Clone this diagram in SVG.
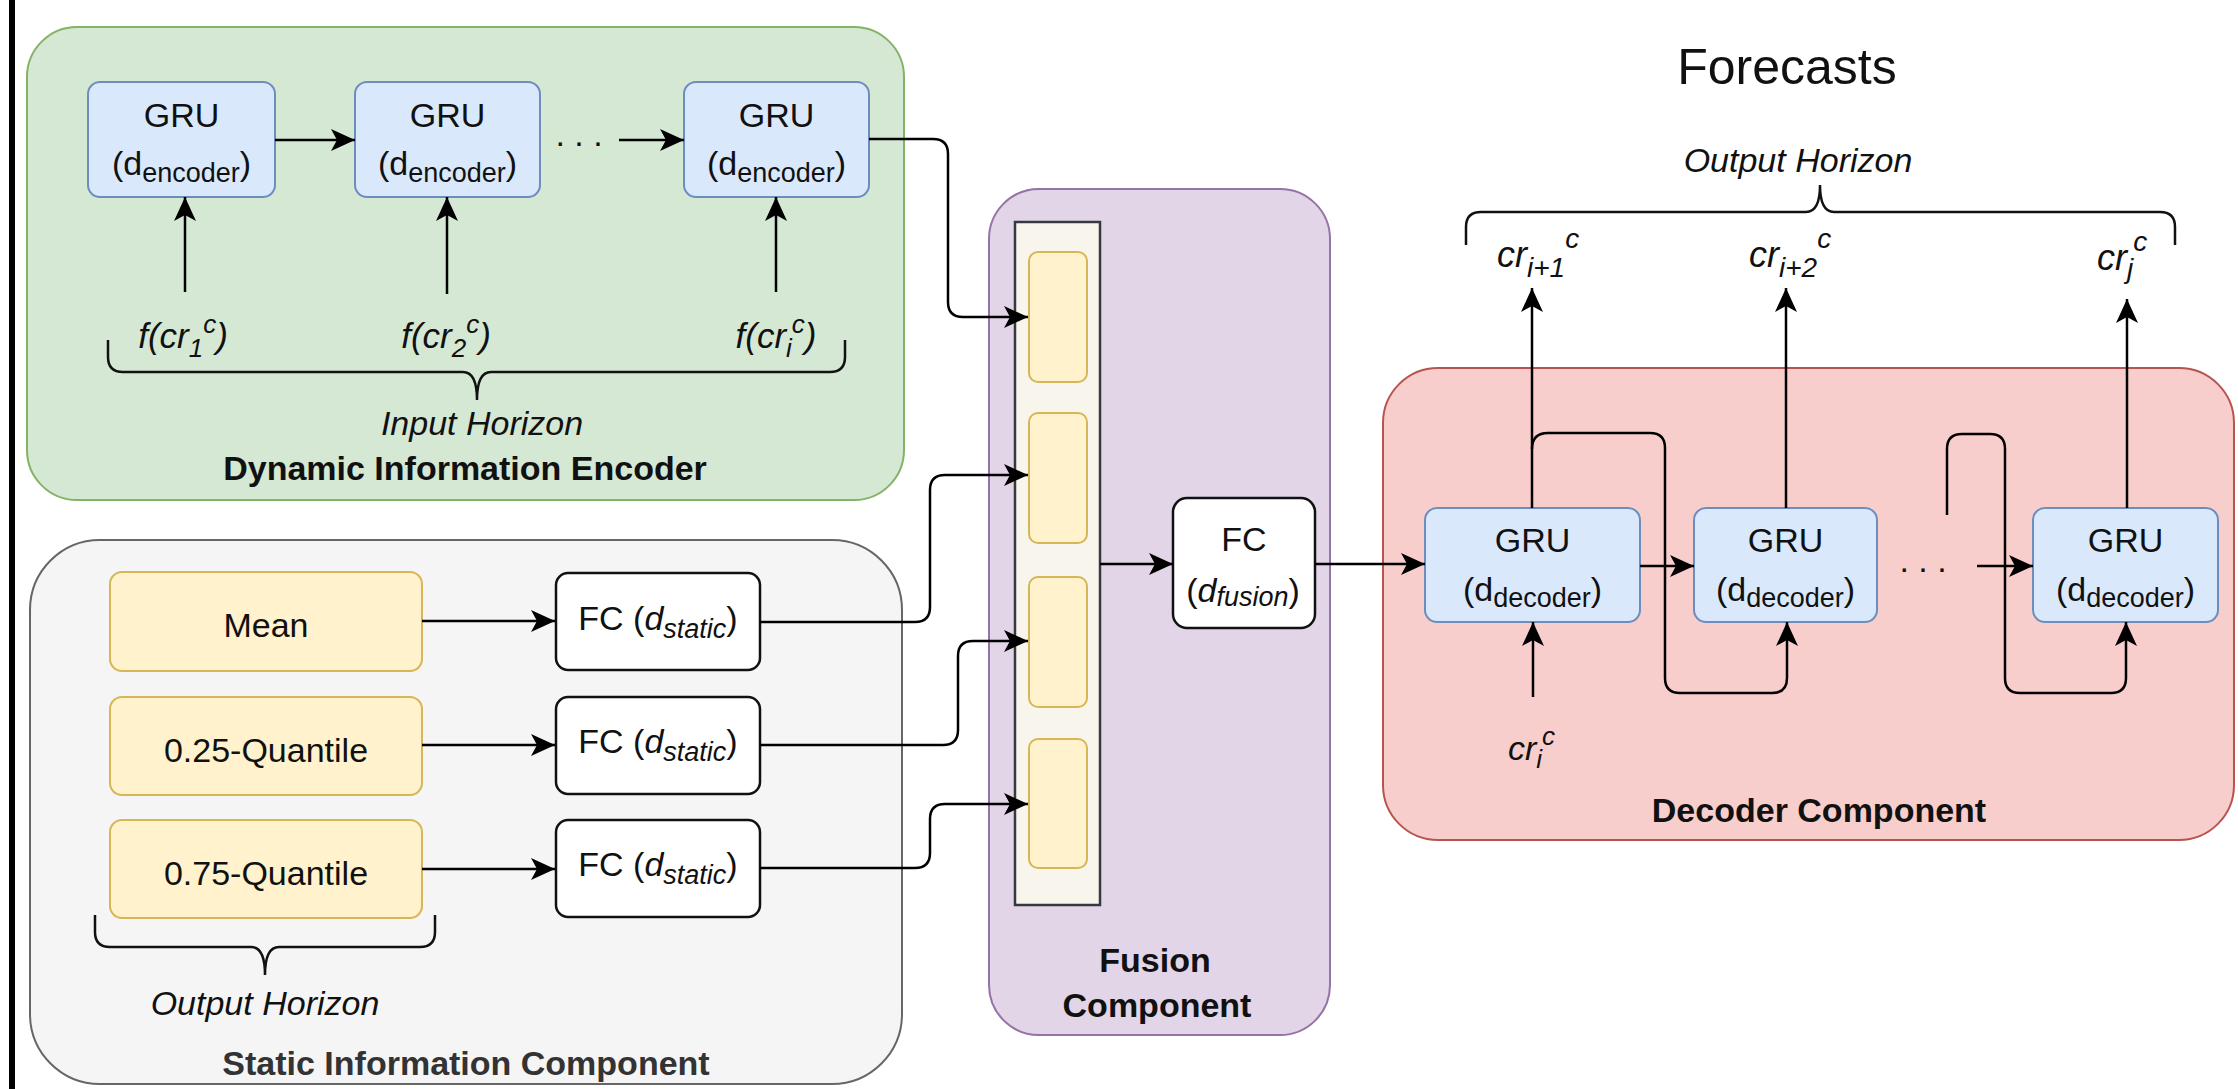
<svg xmlns="http://www.w3.org/2000/svg" width="2238" height="1089" viewBox="0 0 2238 1089">
<style>
text{font-family:"Liberation Sans",Arial,Helvetica,sans-serif;fill:#111;}
.t34{font-size:34px;}
.b34{font-size:34px;font-weight:bold;}
.i34{font-size:34px;font-style:italic;}
.sub{font-size:27px;}
.lab{font-size:35px;font-style:italic;}
.labs{font-size:26px;}
.tl{font-size:36px;font-style:italic;}
.tls{font-size:28px;}
.gru{fill:#dae8fc;stroke:#6c8ebf;stroke-width:2;}
.yel{fill:#fff2cc;stroke:#d6b656;stroke-width:2;}
.fc{fill:#ffffff;stroke:#111;stroke-width:2.5;}
.ln{fill:none;stroke:#000;stroke-width:2.5;}
.arr{fill:none;stroke:#000;stroke-width:2.5;marker-end:url(#ah);}
.br{fill:none;stroke:#111;stroke-width:2.5;}
</style>
<defs>
<marker id="ah" viewBox="-26 -13 28 26" refX="0" refY="0" markerWidth="28" markerHeight="26" markerUnits="userSpaceOnUse" orient="auto">
<path d="M0,0 L-24,-11 L-18,0 L-24,11 Z" fill="#000"/>
</marker>
</defs>
<rect x="0" y="0" width="2238" height="1089" fill="#ffffff"/>
<rect x="9" y="0" width="6" height="1089" fill="#000"/>

<g id="encoder">
<rect x="27" y="27" width="877" height="473" rx="50" fill="#d5e8d4" stroke="#82b366" stroke-width="2"/>
<text class="b34" x="465" y="480" text-anchor="middle">Dynamic Information Encoder</text>
<text class="i34" x="482" y="435" text-anchor="middle">Input Horizon</text>
<path class="br" d="M108,340 L108,357 Q108,372 123,372 L463,372 Q477,372 477,400 Q477,372 491,372 L830,372 Q845,372 845,357 L845,340"/>
<text class="lab" x="183" y="348" text-anchor="middle">f(cr<tspan class="labs" dy="9">1</tspan><tspan class="labs" dy="-24">c</tspan><tspan dy="15">)</tspan></text>
<text class="lab" x="446" y="348" text-anchor="middle">f(cr<tspan class="labs" dy="9">2</tspan><tspan class="labs" dy="-24">c</tspan><tspan dy="15">)</tspan></text>
<text class="lab" x="776" y="348" text-anchor="middle">f(cr<tspan class="labs" dy="9">i</tspan><tspan class="labs" dy="-24">c</tspan><tspan dy="15">)</tspan></text>
<text x="579" y="146" font-size="34" text-anchor="middle">. . .</text>
</g>

<g id="enc-gru1">
<rect class="gru" x="88" y="82" width="187" height="115" rx="12"/>
<text class="t34" x="181.5" y="127" text-anchor="middle">GRU</text>
<text class="t34" x="181.5" y="175" text-anchor="middle">(d<tspan class="sub" dy="7">encoder</tspan><tspan dy="-7">)</tspan></text>
</g>
<g id="enc-gru2">
<rect class="gru" x="355" y="82" width="185" height="115" rx="12"/>
<text class="t34" x="447.5" y="127" text-anchor="middle">GRU</text>
<text class="t34" x="447.5" y="175" text-anchor="middle">(d<tspan class="sub" dy="7">encoder</tspan><tspan dy="-7">)</tspan></text>
</g>
<g id="enc-gru3">
<rect class="gru" x="684" y="82" width="185" height="115" rx="12"/>
<text class="t34" x="776.5" y="127" text-anchor="middle">GRU</text>
<text class="t34" x="776.5" y="175" text-anchor="middle">(d<tspan class="sub" dy="7">encoder</tspan><tspan dy="-7">)</tspan></text>
</g>

<g id="static">
<rect x="30" y="540" width="872" height="544" rx="70" fill="#f5f5f5" stroke="#666666" stroke-width="2"/>
<text class="b34" x="466" y="1075" text-anchor="middle" style="fill:#333">Static Information Component</text>
<path class="br" d="M95,915 L95,932 Q95,947 110,947 L251,947 Q265,947 265,975 Q265,947 279,947 L420,947 Q435,947 435,932 L435,915"/>
<text class="i34" x="265" y="1015" text-anchor="middle">Output Horizon</text>
</g>

<g id="mean">
<rect class="yel" x="110" y="572" width="312" height="99" rx="12"/>
<text class="t34" x="266" y="637" text-anchor="middle">Mean</text>
</g>
<g id="q25">
<rect class="yel" x="110" y="697" width="312" height="98" rx="12"/>
<text class="t34" x="266" y="762" text-anchor="middle">0.25-Quantile</text>
</g>
<g id="q75">
<rect class="yel" x="110" y="820" width="312" height="98" rx="12"/>
<text class="t34" x="266" y="885" text-anchor="middle">0.75-Quantile</text>
</g>
<g id="fc-static1">
<rect class="fc" x="556" y="573" width="204" height="97" rx="12"/>
<text class="t34" x="658" y="630" text-anchor="middle">FC (<tspan font-style="italic">d</tspan><tspan class="sub" font-style="italic" dy="8">static</tspan><tspan dy="-8">)</tspan></text>
</g>
<g id="fc-static2">
<rect class="fc" x="556" y="697" width="204" height="97" rx="12"/>
<text class="t34" x="658" y="753" text-anchor="middle">FC (<tspan font-style="italic">d</tspan><tspan class="sub" font-style="italic" dy="8">static</tspan><tspan dy="-8">)</tspan></text>
</g>
<g id="fc-static3">
<rect class="fc" x="556" y="820" width="204" height="97" rx="12"/>
<text class="t34" x="658" y="876" text-anchor="middle">FC (<tspan font-style="italic">d</tspan><tspan class="sub" font-style="italic" dy="8">static</tspan><tspan dy="-8">)</tspan></text>
</g>

<g id="fusion">
<rect x="989" y="189" width="341" height="846" rx="50" fill="#e1d5e7" stroke="#9673a6" stroke-width="2"/>
<rect x="1015" y="222" width="85" height="683" fill="#f8f6ec" stroke="#36393d" stroke-width="2.5"/>
<rect class="yel" x="1029" y="252" width="58" height="130" rx="9"/>
<rect class="yel" x="1029" y="413" width="58" height="130" rx="9"/>
<rect class="yel" x="1029" y="577" width="58" height="130" rx="9"/>
<rect class="yel" x="1029" y="739" width="58" height="129" rx="9"/>
<text class="b34" x="1155" y="972" text-anchor="middle">Fusion</text>
<text class="b34" x="1157" y="1017" text-anchor="middle">Component</text>
</g>
<g id="fc-fusion">
<rect class="fc" x="1173" y="498" width="142" height="130" rx="14"/>
<text class="t34" x="1244" y="551" text-anchor="middle">FC</text>
<text class="t34" x="1243" y="602" text-anchor="middle">(<tspan font-style="italic">d</tspan><tspan class="sub" font-style="italic" dy="4">fusion</tspan><tspan dy="-4">)</tspan></text>
</g>

<g id="decoder">
<rect x="1383" y="368" width="851" height="472" rx="55" fill="#f8cecc" stroke="#b85450" stroke-width="2"/>
<text class="b34" x="1819" y="822" text-anchor="middle">Decoder Component</text>
<text x="1923" y="572" font-size="34" text-anchor="middle">. . .</text>
<text class="i34" x="1508" y="760">cr<tspan class="labs" dy="8">i</tspan><tspan class="labs" dy="-23">c</tspan></text>
</g>
<g id="dec-gru1">
<rect class="gru" x="1425" y="508" width="215" height="114" rx="12"/>
<text class="t34" x="1532.5" y="552" text-anchor="middle">GRU</text>
<text class="t34" x="1532.5" y="601" text-anchor="middle">(d<tspan class="sub" dy="6">decoder</tspan><tspan dy="-6">)</tspan></text>
</g>
<g id="dec-gru2">
<rect class="gru" x="1694" y="508" width="183" height="114" rx="12"/>
<text class="t34" x="1785.5" y="552" text-anchor="middle">GRU</text>
<text class="t34" x="1785.5" y="601" text-anchor="middle">(d<tspan class="sub" dy="6">decoder</tspan><tspan dy="-6">)</tspan></text>
</g>
<g id="dec-gru3">
<rect class="gru" x="2033" y="508" width="185" height="114" rx="12"/>
<text class="t34" x="2125.5" y="552" text-anchor="middle">GRU</text>
<text class="t34" x="2125.5" y="601" text-anchor="middle">(d<tspan class="sub" dy="6">decoder</tspan><tspan dy="-6">)</tspan></text>
</g>

<g id="forecasts">
<text x="1787" y="84" font-size="50" text-anchor="middle">Forecasts</text>
<text class="i34" x="1798" y="172" text-anchor="middle">Output Horizon</text>
<path class="br" d="M1466,245 L1466,227 Q1466,212 1481,212 L1806,212 Q1820,212 1820,185 Q1820,212 1834,212 L2160,212 Q2175,212 2175,227 L2175,245"/>
<text class="tl" x="1497" y="267">cr<tspan class="tls" dy="10">i+1</tspan><tspan class="tls" dy="-29">c</tspan></text>
<text class="tl" x="1749" y="267">cr<tspan class="tls" dy="10">i+2</tspan><tspan class="tls" dy="-29">c</tspan></text>
<text class="tl" x="2097" y="270">cr<tspan class="tls" dy="8">j</tspan><tspan class="tls" dy="-27">c</tspan></text>
</g>

<g id="connectors">
<path class="arr" d="M275,140 L355,140"/>
<path class="arr" d="M619,140 L684,140"/>
<path class="arr" d="M185,292 L185,197"/>
<path class="arr" d="M447,294 L447,197"/>
<path class="arr" d="M776,292 L776,197"/>
<path class="arr" d="M869,139 L933,139 Q948,139 948,154 L948,302 Q948,317 963,317 L1028,317"/>
<path class="arr" d="M422,621 L555,621"/>
<path class="arr" d="M422,745 L555,745"/>
<path class="arr" d="M422,869 L555,869"/>
<path class="arr" d="M760,622 L915,622 Q930,622 930,607 L930,490 Q930,475 945,475 L1028,475"/>
<path class="arr" d="M760,745 L943,745 Q958,745 958,730 L958,656 Q958,641 973,641 L1028,641"/>
<path class="arr" d="M760,868 L915,868 Q930,868 930,853 L930,819 Q930,804 945,804 L1028,804"/>
<path class="arr" d="M1100,564 L1173,564"/>
<path class="arr" d="M1315,564 L1425,564"/>
<path class="arr" d="M1640,566 L1694,566"/>
<path class="arr" d="M1977,566 L2033,566"/>
<path class="arr" d="M1532,508 L1532,288"/>
<path class="arr" d="M1786,508 L1786,288"/>
<path class="arr" d="M2127,508 L2127,299"/>
<path class="arr" d="M1533,697 L1533,622"/>
<path class="arr" d="M1532,449 Q1532,433 1548,433 L1650,433 Q1665,433 1665,448 L1665,678 Q1665,693 1680,693 L1772,693 Q1787,693 1787,678 L1787,622"/>
<path class="arr" d="M1947,515 L1947,449 Q1947,434 1962,434 L1990,434 Q2005,434 2005,449 L2005,678 Q2005,693 2020,693 L2111,693 Q2126,693 2126,678 L2126,622"/>
</g>
</svg>
